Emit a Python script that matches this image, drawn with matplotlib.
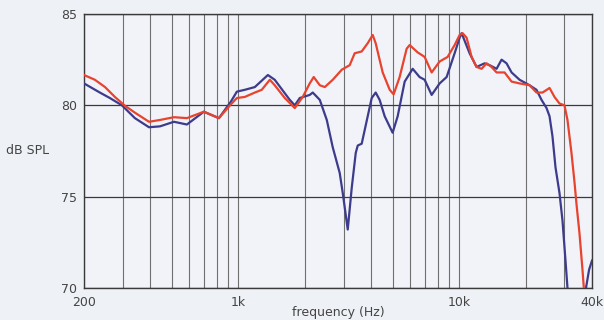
import matplotlib
matplotlib.use('Agg')
import matplotlib.pyplot as plt
from matplotlib.ticker import LogLocator, NullFormatter, FixedLocator
import numpy as np

# blue curve (frequency in Hz, level in dB SPL)
freq_blue = [200, 236, 262, 297, 340, 394, 442, 511, 585, 698, 817, 925, 985,
             1070, 1188, 1361, 1462, 1710, 1802, 1898, 2106, 2174, 2339, 2516,
             2678, 2879, 2972, 3131, 3265, 3404, 3475, 3622, 3737, 4020, 4190,
             4367, 4603, 5000, 5270, 5670, 6164, 6622, 6982, 7512, 8166, 8783,
             9546, 10054, 10266, 11160, 12000, 13048, 13740, 14785, 15576,
             16405, 17290, 18792, 20855, 22420, 23626, 24897, 25692, 26489,
             27339, 28495, 29401, 30340, 30974, 34000, 36500, 37570, 38800, 40000]
spl_blue = [81.2, 80.7, 80.4, 80.0, 79.3, 78.8, 78.85, 79.1, 78.95, 79.65, 79.3,
            80.2, 80.75, 80.85, 81.0, 81.66, 81.4, 80.3, 80.0, 80.4, 80.57, 80.7,
            80.3, 79.2, 77.7, 76.3, 75.2, 73.2, 75.5, 77.4, 77.8, 77.9, 78.65,
            80.4, 80.7, 80.3, 79.4, 78.5, 79.4, 81.3, 82.0, 81.55, 81.4, 80.57,
            81.2, 81.55, 82.85, 83.7, 83.95, 82.85, 82.1, 82.3, 82.2, 82.0, 82.5,
            82.3, 81.8, 81.4, 81.1, 80.85, 80.3, 79.85, 79.4, 78.3, 76.6, 75.2,
            73.7, 71.5, 70.0, 62.0, 67.0, 70.0, 71.0, 71.5]

# red curve
freq_red = [200, 224, 249, 276, 307, 340, 394, 442, 511, 585, 698, 817, 925,
            985, 1070, 1188, 1277, 1389, 1462, 1624, 1802, 1958, 2106, 2196,
            2339, 2464, 2678, 2942, 3196, 3366, 3622, 3855, 4062, 4190, 4508,
            4850, 5053, 5380, 5788, 5972, 6490, 6982, 7512, 8166, 8872, 9546,
            10054, 10375, 10817, 11396, 12000, 12645, 13320, 14030, 14785,
            16070, 17290, 18792, 20855, 22420, 23876, 25692, 27050, 28495,
            30020, 30974, 32290, 33320, 34023, 35100, 36220, 37000, 40000]
spl_red = [81.66, 81.4, 81.0, 80.46, 79.97, 79.6, 79.1, 79.2, 79.35, 79.3,
           79.65, 79.3, 80.05, 80.4, 80.46, 80.7, 80.85, 81.4, 81.1, 80.4, 79.85,
           80.46, 81.2, 81.55, 81.1, 81.0, 81.4, 81.95, 82.2, 82.85, 82.95, 83.4,
           83.85, 83.4, 81.8, 80.85, 80.6, 81.55, 83.1, 83.3, 82.9, 82.65, 81.8,
           82.4, 82.65, 83.3, 83.85, 83.95, 83.7, 82.65, 82.1, 82.0, 82.3, 82.1,
           81.8, 81.8, 81.3, 81.2, 81.1, 80.7, 80.7, 80.95, 80.46, 80.1, 80.0,
           79.2, 77.4, 75.8, 74.6, 73.0, 71.0, 69.5, 62.0]

x_ticks = [200, 1000, 10000, 40000]
x_labels = ['200', '1k', '10k', '40k']
y_ticks = [70, 75, 80, 85]

bg = '#eef1f6'
txt = '#444444'

fig = plt.figure(figsize=(6.04, 3.2), dpi=100, facecolor=bg)
ax = fig.add_axes([84 / 604, 32 / 320, 508 / 604, 274 / 320], facecolor='#f1f3f8')

ax.plot(freq_blue, spl_blue, color='#3d3b8c', lw=1.6, zorder=3)
ax.plot(freq_red, spl_red, color='#e8432e', lw=1.6, zorder=4)

ax.set_xscale('log')
ax.set_xlim(200, 40000)
ax.set_ylim(70, 85)

ax.xaxis.set_major_locator(FixedLocator(x_ticks))
ax.set_xticklabels(x_labels)
ax.xaxis.set_minor_locator(LogLocator(base=10, subs=np.arange(2, 10)))
ax.xaxis.set_minor_formatter(NullFormatter())
ax.set_yticks(y_ticks)

ax.grid(True, which='both', axis='x', color='#707070', lw=0.8)
ax.grid(True, which='major', axis='y', color='#3a3a3a', lw=0.9)
ax.tick_params(which='both', length=0, labelsize=9, labelcolor=txt)
ax.tick_params(axis='y', pad=5)
ax.tick_params(axis='x', pad=6)

for s in ax.spines.values():
    s.set_color('#3a3a3a')
    s.set_linewidth(1.0)

fig.text(6 / 604, 1 - 150 / 320, 'dB SPL', ha='left', va='center', fontsize=9, color=txt)
fig.text(338 / 604, 1 - 319 / 320, 'frequency (Hz)', ha='center', va='bottom', fontsize=9, color=txt)

fig.savefig('out.png', dpi=100, facecolor=bg)
